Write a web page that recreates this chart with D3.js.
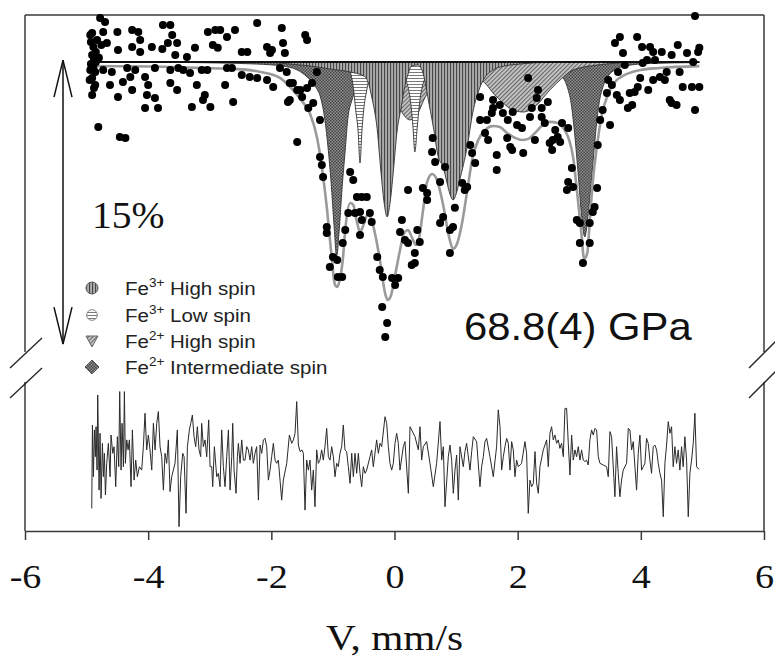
<!DOCTYPE html>
<html><head><meta charset="utf-8">
<script src="https://cdn.jsdelivr.net/npm/d3@7"></script>
<style>body{margin:0;background:#fff;} svg{display:block;}</style>
</head><body><svg id="c" width="775" height="657"></svg>
<script>
// ---------- DATA ----------
const velocityTicks = [-6, -4, -2, 0, 2, 4, 6];
const pressureLabel = "68.8(4) GPa";
const scaleBarLabel = "15%";
const xAxisTitle = "V, mm/s";
const legendIon = ["Fe", "Fe", "Fe", "Fe"];
const legendCharge = ["3+", "3+", "2+", "2+"];
const legendState = ["High spin", "Low spin", "High spin", "Intermediate spin"];

// measured spectrum: [velocity mm/s, relative transmission %]
const spectrum = [
[-4.94,101.43],[-4.93,101.06],[-4.91,101.54],[-4.89,100.80],[-4.91,100.37],[-4.88,100.11],[-4.93,99.90],[-4.89,99.74],
[-4.86,99.47],[-4.91,99.15],[-4.85,100.53],[-4.83,101.17],[-4.86,98.78],[-4.91,98.25],[-4.95,99.05],[-4.81,96.56],
[-4.78,102.33],[-4.73,101.59],[-4.70,102.12],[-4.73,99.58],[-4.80,100.22],[-4.76,100.90],[-4.85,100.00],[-4.94,99.58],
[-4.88,98.62],[-4.67,101.01],[-4.62,98.78],[-4.59,99.47],[-4.50,101.59],[-4.49,100.64],[-4.49,98.15],[-4.46,96.03],
[-4.41,98.94],[-4.37,95.97],[-4.34,99.68],[-4.29,99.21],[-4.26,101.70],[-4.26,100.80],[-4.26,98.52],[-4.21,99.58],
[-4.16,101.59],[-4.13,101.17],[-4.13,100.53],[-4.05,99.21],[-4.05,97.56],[-4.02,98.25],[-4.00,98.78],[-3.94,100.80],
[-3.89,99.68],[-3.89,98.09],[-3.84,97.56],[-3.77,100.69],[-3.76,101.96],[-3.68,101.01],[-3.64,101.96],[-3.64,99.58],
[-3.64,98.89],[-3.61,101.43],[-3.56,100.37],[-3.53,101.01],[-3.53,98.52],[-3.51,99.68],[-3.43,99.58],[-3.37,100.27],
[-3.32,99.42],[-3.29,97.62],[-3.24,100.75],[-3.21,98.78],[-3.13,99.58],[-3.11,97.99],[-3.08,98.25],[-3.04,99.58],
[-3.03,101.59],[-2.99,97.62],[-2.95,100.90],[-2.91,101.70],[-2.87,100.75],[-2.83,101.70],[-2.75,98.78],[-2.72,101.33],
[-2.72,99.68],[-2.64,99.68],[-2.62,97.88],[-2.59,101.70],[-2.48,100.53],[-2.48,99.31],[-2.39,100.53],[-2.35,99.21],
[-2.23,102.07],[-2.23,99.15],[-2.07,100.80],[-2.07,99.05],[-2.02,100.48],[-1.99,100.64],[-1.97,98.68],[-1.86,99.68],
[-1.83,101.80],[-1.81,101.01],[-1.78,100.48],[-1.75,99.47],[-1.73,97.88],[-1.70,98.89],[-1.70,97.99],[-1.65,98.89],
[-1.58,98.52],[-1.58,95.76],[-1.53,98.52],[-1.50,98.15],[-1.45,101.43],[-1.42,101.17],[-1.42,98.62],[-1.40,97.56],
[-1.34,98.89],[-1.32,97.83],[-1.26,99.47],[-1.21,96.93],[-1.21,94.97],[-1.18,94.54],[-1.16,93.91],[-1.10,91.26],
[-1.10,90.94],[-1.05,89.14],[-1.00,89.67],[-0.93,89.51],[-0.92,88.61],[-0.85,88.61],[-0.84,90.41],[-0.80,91.10],
[-0.75,92.00],[-0.72,94.17],[-0.67,93.75],[-0.64,92.00],[-0.61,92.85],[-0.56,92.05],[-0.56,90.83],[-0.53,92.85],
[-0.53,91.63],[-0.45,92.85],[-0.40,92.00],[-0.37,91.52],[-0.28,89.67],[-0.24,88.98],[-0.20,87.02],[-0.19,88.61],
[-0.15,85.43],[-0.12,86.17],[-0.04,88.55],[0.01,88.18],[0.06,88.55],[0.09,90.99],[0.12,91.63],[0.17,90.57],
[0.22,93.22],[0.22,90.41],[0.28,89.24],[0.33,89.88],[0.33,89.35],[0.37,91.10],[0.41,90.46],[0.46,93.32],
[0.53,93.06],[0.53,92.69],[0.61,95.23],[0.62,95.97],[0.66,94.70],[0.74,93.64],[0.74,91.47],[0.79,91.79],
[0.82,94.44],[0.90,91.10],[0.90,89.88],[0.95,91.26],[0.98,92.27],[1.10,93.59],[1.14,93.22],[1.18,93.38],
[1.23,95.60],[1.26,95.18],[1.31,94.65],[1.39,98.15],[1.39,96.93],[1.47,96.24],[1.50,96.93],[1.52,95.87],
[1.58,97.30],[1.60,97.99],[1.60,97.56],[1.66,95.07],[1.66,94.28],[1.71,97.72],[1.76,97.30],[1.83,95.97],
[1.84,96.93],[1.88,95.50],[1.91,95.34],[1.92,97.35],[1.99,96.66],[2.07,96.50],[2.09,95.18],[2.17,99.15],
[2.20,97.09],[2.23,97.56],[2.28,95.87],[2.31,98.09],[2.33,98.52],[2.39,97.56],[2.39,97.09],[2.44,96.77],
[2.49,97.88],[2.52,95.71],[2.56,95.34],[2.57,95.87],[2.61,96.40],[2.65,96.03],[2.69,95.76],[2.72,96.77],
[2.80,93.22],[2.82,96.50],[2.82,93.64],[2.88,94.38],[2.90,93.38],[2.96,91.63],[3.01,91.47],[3.01,90.41],
[3.06,89.35],[3.17,91.47],[3.17,90.41],[3.22,92.05],[3.25,92.32],[3.29,93.32],[3.30,95.60],[3.34,96.93],
[3.38,97.46],[3.45,98.36],[3.47,99.05],[3.50,96.66],[3.53,98.78],[3.58,101.01],[3.61,98.25],[3.63,99.47],
[3.66,101.33],[3.66,97.99],[3.71,100.48],[3.74,99.84],[3.79,97.56],[3.82,98.36],[3.86,97.72],[3.90,98.41],
[3.94,101.33],[3.95,98.68],[3.99,99.15],[4.02,100.80],[4.03,99.95],[4.10,100.11],[4.12,98.52],[4.15,100.80],
[4.20,100.53],[4.20,99.05],[4.23,100.11],[4.31,99.21],[4.34,100.53],[4.39,99.05],[4.42,99.47],[4.47,97.99],
[4.50,100.37],[4.50,97.83],[4.58,97.72],[4.60,100.90],[4.63,99.47],[4.68,98.68],[4.75,100.48],[4.83,98.68],
[4.85,100.00],[4.88,102.44],[4.88,97.46],[4.93,100.53],[4.95,100.75],[4.95,98.68]
];

// total fit: [velocity, absorption %]
const fitTotal = [
[-4.95,0.11],[-3.97,0.13],[-3.16,0.21],[-2.59,0.26],[-2.18,0.42],[-1.86,0.74],[-1.65,1.38],[-1.49,2.01],
[-1.37,2.65],[-1.26,3.87],[-1.18,5.46],[-1.10,7.58],[-1.02,10.23],[-0.97,11.66],[-0.93,11.82],[-0.89,11.45],
[-0.84,10.39],[-0.79,8.48],[-0.72,7.37],[-0.67,7.47],[-0.61,8.37],[-0.56,8.90],[-0.51,8.59],[-0.43,7.95],
[-0.35,8.53],[-0.24,10.33],[-0.15,12.19],[-0.11,12.51],[-0.06,12.30],[0.02,11.02],[0.09,9.86],[0.15,9.01],
[0.22,8.80],[0.28,9.17],[0.35,9.59],[0.40,9.22],[0.46,7.84],[0.53,6.25],[0.61,5.83],[0.69,6.15],
[0.79,7.47],[0.89,9.22],[0.95,9.80],[1.02,9.49],[1.10,8.37],[1.19,6.52],[1.27,4.93],[1.36,4.03],
[1.47,3.50],[1.60,3.29],[1.71,3.34],[1.83,3.66],[1.96,3.92],[2.07,4.03],[2.17,3.97],[2.28,3.66],
[2.39,3.29],[2.52,3.07],[2.65,3.13],[2.75,3.44],[2.83,3.97],[2.90,4.93],[2.96,6.62],[3.03,8.80],
[3.08,10.33],[3.13,10.02],[3.17,8.37],[3.22,6.25],[3.29,4.29],[3.37,2.65],[3.47,1.59],[3.58,0.95],
[3.74,0.58],[3.99,0.32],[4.31,0.21],[4.95,0.11]
];

// subspectra: [velocity, absorption %]
const fe2Intermediate = [
[-4.13,0],[-2.88,0.05],[-2.23,0.11],[-1.83,0.21],[-1.58,0.42],[-1.42,0.79],[-1.29,1.27],[-1.19,2.01],
[-1.13,3.07],[-1.08,4.50],[-1.03,6.36],[-0.98,8.74],[-0.94,10.33],[-0.90,9.01],[-0.85,6.62],[-0.80,4.66],
[-0.76,3.07],[-0.69,2.01],[-0.59,1.27],[-0.46,0.79],[-0.24,0.42],[0.09,0.21],[0.58,0.11],[1.23,0.08],
[2.04,0.11],[2.44,0.21],[2.61,0.42],[2.72,0.74],[2.80,1.27],[2.87,2.23],[2.93,3.97],[2.98,5.83],
[3.04,8.21],[3.09,9.27],[3.14,8.21],[3.21,5.83],[3.26,3.97],[3.32,2.23],[3.39,1.27],[3.47,0.74],
[3.58,0.42],[3.74,0.21],[4.15,0.08],[4.95,0.03]
];
const fe2HighSpin = [
[-1.05,0.05],[-0.56,0.26],[-0.24,0.79],[0.01,1.85],[0.14,2.76],[0.25,3.07],[0.37,2.76],[0.50,1.85],
[0.66,1.17],[0.90,0.90],[1.14,0.85],[1.39,0.95],[1.66,1.85],[1.92,2.54],[2.09,2.65],[2.31,2.28],
[2.48,1.64],[2.69,0.95],[2.90,0.42],[3.29,0.16],[3.66,0.05],[4.07,0]
];
const fe3LowSpin = [
[-1.83,0],[-1.37,0.10],[-1.05,0.15],[-0.80,0.21],[-0.72,0.53],[-0.67,1.32],[-0.63,2.54],[-0.59,3.71],
[-0.56,5.35],[-0.53,3.71],[-0.50,2.54],[-0.45,1.48],[-0.40,0.74],[-0.27,0.48],[-0.12,0.42],[0.02,0.53],
[0.14,0.79],[0.22,1.32],[0.27,2.38],[0.30,3.44],[0.33,4.77],[0.37,3.44],[0.40,2.38],[0.45,1.32],
[0.53,0.74],[0.74,0.42],[1.23,0.10],[2.04,0.05],[3.01,0]
];
const fe3HighSpin = [
[-2.02,0],[-1.70,0.11],[-1.37,0.21],[-1.05,0.37],[-0.72,0.53],[-0.50,0.74],[-0.43,1.06],[-0.37,1.85],
[-0.28,3.60],[-0.22,5.83],[-0.17,7.42],[-0.12,8.21],[-0.07,7.42],[-0.02,5.83],[0.04,3.71],[0.11,2.38],
[0.15,1.59],[0.22,0.64],[0.28,0.21],[0.38,0.16],[0.43,0.32],[0.48,0.79],[0.54,1.85],[0.63,3.44],
[0.71,5.03],[0.79,5.56],[0.85,6.36],[0.90,7.00],[0.95,7.31],[1.02,6.78],[1.06,6.25],[1.18,4.50],
[1.27,2.70],[1.39,1.32],[1.60,0.42],[1.79,0.21],[2.04,0.11],[2.36,0]
];

// residual: [velocity, difference %]
const residual = [
[-4.916,-2.83],[-4.905,1.59],[-4.889,-1.15],[-4.873,1.33],[-4.857,-0.09],[-4.846,1.50],[-4.830,-0.80],[-4.819,3.18],
[-4.797,-1.86],[-4.781,1.15],[-4.765,-2.30],[-4.743,0.62],[-4.727,-1.15],[-4.711,0.09],[-4.694,-2.12],[-4.673,-0.44],
[-4.646,0.62],[-4.619,-1.15],[-4.603,1.06],[-4.575,0.09],[-4.554,0.44],[-4.527,-1.68],[-4.500,0.97],[-4.478,-0.62],
[-4.462,3.36],[-4.440,-0.80],[-4.424,1.68],[-4.402,-0.62],[-4.386,3.36],[-4.370,-0.44],[-4.348,0.80],[-4.326,0.27],
[-4.305,0.80],[-4.278,-1.68],[-4.256,1.33],[-4.229,-1.33],[-4.202,-0.27],[-4.175,-1.15],[-4.143,-0.62],[-4.105,-0.80],
[-4.078,0.44],[-4.051,2.21],[-4.024,0.27],[-3.997,1.06],[-3.970,0.27],[-3.942,-0.80],[-3.915,1.68],[-3.888,0.27],
[-3.861,1.68],[-3.834,2.30],[-3.807,0.44],[-3.780,-0.09],[-3.753,-1.86],[-3.726,0.09],[-3.699,-0.44],[-3.672,0.80],
[-3.645,-1.94],[-3.618,-1.15],[-3.591,-0.80],[-3.564,-0.44],[-3.526,1.33],[-3.499,-3.80],[-3.472,-1.15],[-3.439,0.09],
[-3.417,-0.09],[-3.385,-3.09],[-3.363,0.44],[-3.331,1.33],[-3.309,1.68],[-3.282,2.12],[-3.255,0.97],[-3.228,0.44],
[-3.201,1.50],[-3.174,0.27],[-3.147,-0.09],[-3.131,1.68],[-3.104,0.44],[-3.077,0.80],[-3.049,-0.09],[-3.017,1.86],
[-2.995,-0.62],[-2.968,-0.62],[-2.952,-1.68],[-2.925,0.44],[-2.887,-1.15],[-2.860,-0.97],[-2.833,-1.68],[-2.806,1.33],
[-2.779,-0.62],[-2.752,-1.68],[-2.724,-0.09],[-2.697,1.33],[-2.670,-1.86],[-2.643,-0.09],[-2.627,1.68],[-2.605,-0.80],
[-2.573,-2.03],[-2.551,-0.09],[-2.535,0.62],[-2.508,-0.44],[-2.481,0.80],[-2.454,-0.27],[-2.427,-0.27],[-2.400,0.44],
[-2.373,0.27],[-2.346,-0.27],[-2.319,0.44],[-2.292,-0.44],[-2.265,0.09],[-2.238,0.44],[-2.210,-2.39],[-2.183,0.53],
[-2.156,0.09],[-2.129,0.80],[-2.102,0.88],[-2.075,0.44],[-2.048,-1.33],[-2.021,-0.80],[-1.994,-0.09],[-1.967,0.62],
[-1.940,-0.27],[-1.913,-0.44],[-1.886,-0.27],[-1.859,-1.33],[-1.832,-2.39],[-1.805,-1.33],[-1.750,-0.44],[-1.707,1.06],
[-1.669,0.62],[-1.642,0.80],[-1.615,1.15],[-1.588,2.83],[-1.561,0.53],[-1.534,0.18],[-1.502,0.27],[-1.480,0.09],
[-1.453,-2.92],[-1.426,-0.27],[-1.399,-0.80],[-1.372,-0.27],[-1.345,-1.86],[-1.318,-0.80],[-1.291,-2.74],[-1.264,0.27],
[-1.237,-0.44],[-1.210,-0.27],[-1.183,0.27],[-1.156,-0.27],[-1.129,0.44],[-1.101,1.41],[-1.074,-0.09],[-1.047,-0.27],
[-1.020,0.44],[-0.993,-0.09],[-0.966,-1.15],[-0.939,-0.44],[-0.912,-0.62],[-0.885,0.09],[-0.858,0.44],[-0.831,1.59],
[-0.804,0.27],[-0.777,0.18],[-0.750,-0.62],[-0.722,-1.50],[-0.695,0.09],[-0.668,-1.15],[-0.641,0.09],[-0.614,-0.97],
[-0.587,0.09],[-0.560,-0.97],[-0.533,-1.68],[-0.506,-0.62],[-0.479,-0.97],[-0.452,-0.80],[-0.398,-0.09],[-0.371,0.27],
[-0.344,-0.62],[-0.290,0.80],[-0.262,0.09],[-0.235,0.62],[-0.208,0.44],[-0.154,2.03],[-0.127,1.68],[-0.100,0.44],
[-0.073,-0.44],[-0.046,-0.80],[-0.019,-0.44],[0.008,0.62],[0.035,1.15],[0.062,0.62],[0.089,-0.80],[0.143,0.44],
[0.170,0.71],[0.225,-2.03],[0.252,1.50],[0.333,0.97],[0.387,0.27],[0.414,1.50],[0.441,-0.27],[0.468,0.44],
[0.522,0.71],[0.576,-0.44],[0.630,-1.68],[0.684,-0.44],[0.739,1.77],[0.766,-0.27],[0.793,0.44],[0.820,-2.74],
[0.874,-0.09],[0.901,0.53],[0.928,-0.27],[0.955,-2.03],[0.982,-0.80],[1.009,0.00],[1.036,-2.39],[1.063,0.44],
[1.117,-0.62],[1.144,0.18],[1.171,0.62],[1.226,-0.80],[1.253,0.18],[1.280,0.97],[1.334,0.71],[1.388,-1.68],
[1.415,-0.62],[1.442,-0.09],[1.469,0.71],[1.496,0.88],[1.550,-0.09],[1.604,-1.15],[1.658,0.44],[1.685,2.39],
[1.713,1.50],[1.740,-0.80],[1.767,-0.09],[1.794,0.44],[1.821,0.88],[1.848,0.62],[1.875,-0.80],[1.902,0.71],
[1.929,0.27],[1.956,-1.15],[1.983,-0.27],[2.010,-0.62],[2.037,-0.53],[2.064,-0.44],[2.118,0.71],[2.145,0.09],
[2.172,-3.09],[2.199,-1.33],[2.227,-1.68],[2.254,-1.50],[2.281,0.18],[2.308,-1.50],[2.335,-2.03],[2.362,-0.62],
[2.416,0.27],[2.470,0.80],[2.497,-0.62],[2.524,1.15],[2.551,1.50],[2.578,0.80],[2.605,1.06],[2.632,0.62],
[2.659,0.80],[2.686,0.35],[2.713,0.62],[2.741,-0.09],[2.768,2.47],[2.795,2.47],[2.822,0.62],[2.849,-1.06],
[2.876,1.06],[2.903,-0.27],[2.930,0.27],[2.957,-0.09],[2.984,0.44],[3.011,-0.27],[3.038,0.27],[3.065,-0.27],
[3.092,-0.35],[3.119,-0.27],[3.146,-0.53],[3.173,0.80],[3.200,1.33],[3.227,1.06],[3.255,1.41],[3.282,1.33],
[3.309,-0.09],[3.336,-0.44],[3.390,-0.53],[3.444,-0.62],[3.471,-1.15],[3.498,1.24],[3.525,0.97],[3.579,-2.21],
[3.606,0.44],[3.633,-0.97],[3.660,-2.21],[3.687,-1.33],[3.714,-0.80],[3.769,-0.44],[3.796,1.41],[3.823,1.33],
[3.850,0.27],[3.877,0.71],[3.904,-0.62],[3.931,-1.86],[3.958,0.09],[3.985,1.06],[4.012,-0.80],[4.039,-0.62],
[4.066,-0.44],[4.093,0.88],[4.120,0.62],[4.147,-0.27],[4.174,-0.97],[4.201,0.44],[4.228,0.53],[4.256,0.27],
[4.283,-0.44],[4.310,-0.97],[4.337,-1.33],[4.364,-3.27],[4.391,-0.44],[4.418,0.53],[4.445,1.77],[4.472,1.15],
[4.499,1.50],[4.526,-0.62],[4.553,0.44],[4.580,-0.44],[4.607,0.27],[4.634,-0.80],[4.661,0.44],[4.688,-0.62],
[4.715,0.97],[4.743,-0.27],[4.770,-3.27],[4.797,-0.97],[4.824,-0.27],[4.851,0.62],[4.878,2.21],[4.905,-0.62],
[4.943,-0.76]
];

// ---------- CHART ----------
const svg = d3.select('#c');
const x = d3.scaleLinear().domain([-6, 6]).range([25, 764]);
const yTop = d3.scaleLinear().domain([100, 85]).range([62, 345]);
const yRes = d3.scaleLinear().domain([-4, 4]).range([530.5, 379.5]);
const vMin = -4.95, vMax = 4.95;
const serif = '"Liberation Serif","Times New Roman",serif';
const sans = '"Liberation Sans",Arial,sans-serif';

const defs = svg.append('defs');
const pV = defs.append('pattern').attr('id','pV').attr('patternUnits','userSpaceOnUse').attr('width',3).attr('height',3);
pV.append('rect').attr('width',3).attr('height',3).attr('fill','#ababab');
pV.append('rect').attr('x',0).attr('width',1.1).attr('height',3).attr('fill','#474747');
const pH = defs.append('pattern').attr('id','pH').attr('patternUnits','userSpaceOnUse').attr('width',3).attr('height',3);
pH.append('rect').attr('width',3).attr('height',3).attr('fill','#ffffff');
pH.append('rect').attr('y',0).attr('width',3).attr('height',1).attr('fill','#7a7a7a');
const pD = defs.append('pattern').attr('id','pD').attr('patternUnits','userSpaceOnUse').attr('width',3).attr('height',3)
  .attr('patternTransform','rotate(45)');
pD.append('rect').attr('width',3).attr('height',3).attr('fill','#c6c6c6');
pD.append('rect').attr('x',0).attr('width',1.1).attr('height',3).attr('fill','#666');
const pC = defs.append('pattern').attr('id','pC').attr('patternUnits','userSpaceOnUse').attr('width',3).attr('height',3);
pC.append('rect').attr('width',3).attr('height',3).attr('fill','#8e8e8e');
pC.append('rect').attr('width',1.5).attr('height',1.5).attr('fill','#474747');
pC.append('rect').attr('x',1.5).attr('y',1.5).attr('width',1.5).attr('height',1.5).attr('fill','#474747');

// frame
const frame = svg.append('g').attr('stroke','#3a3a3a').attr('stroke-width',1.5).attr('fill','none');
frame.append('line').attr('x1',25).attr('x2',764).attr('y1',15).attr('y2',15);
[25, 764].forEach(px => {
  frame.append('line').attr('x1',px).attr('x2',px).attr('y1',15).attr('y2',352);
  frame.append('line').attr('x1',px).attr('x2',px).attr('y1',382).attr('y2',531);
});
const brk = svg.append('g').attr('stroke','#222').attr('stroke-width',1.3);
[[10,368,42,338],[10,398,42,368],[749,368,776,341],[749,398,776,371]].forEach(s=>{
  brk.append('line').attr('x1',s[0]).attr('y1',s[1]).attr('x2',s[2]).attr('y2',s[3]);
});

// x axis
const ax = svg.append('g').attr('transform','translate(0,531)')
  .call(d3.axisBottom(x).tickValues(velocityTicks).tickFormat(d=>String(d)).tickSize(9).tickSizeOuter(0).tickPadding(24));
ax.select('.domain').attr('stroke','#3a3a3a').attr('stroke-width',1.5);
ax.selectAll('.tick line').attr('stroke','#3a3a3a').attr('stroke-width',1.5);
ax.selectAll('.tick text').attr('font-family',serif).attr('font-size',34).attr('fill','#111')
  .attr('transform','scale(1.12,1)').attr('x',0);

svg.append('text').attr('transform',`translate(${x(0)},650) scale(1.18,1)`).attr('text-anchor','middle')
  .attr('font-family',serif).attr('font-size',35).attr('fill','#111').text(xAxisTitle);

// subspectra
const area = d3.area().x(d=>x(d[0])).y0(yTop(100)).y1(d=>yTop(100-d[1])).curve(d3.curveMonotoneX);
const comps = [[fe2Intermediate,'url(#pC)'],[fe2HighSpin,'url(#pD)'],[fe3LowSpin,'url(#pH)'],[fe3HighSpin,'url(#pV)']];
comps.forEach(c => {
  svg.append('path').datum(c[0]).attr('d',area).attr('fill',c[1]).attr('stroke','#333').attr('stroke-width',0.9);
});

// baseline
svg.append('line').attr('x1',x(vMin)).attr('x2',x(vMax)).attr('y1',yTop(100)).attr('y2',yTop(100))
  .attr('stroke','#111').attr('stroke-width',2.2);

// fit
const fitLine = d3.line().x(d=>x(d[0])).y(d=>yTop(100-d[1])+2).curve(d3.curveMonotoneX);
svg.append('path').datum(fitTotal).attr('d',fitLine).attr('fill','none').attr('stroke','#9a9a9a').attr('stroke-width',2.6);

// data points
svg.append('g').selectAll('circle').data(spectrum).join('circle')
  .attr('cx',d=>x(d[0])).attr('cy',d=>yTop(d[1])).attr('r',4).attr('fill','#000');

// residual
const resLine = d3.line().x(d=>x(d[0])).y(d=>yRes(d[1]));
svg.append('path').datum(residual).attr('d',resLine).attr('fill','none').attr('stroke','#2a2a2a').attr('stroke-width',1);

// scale arrow
const arr = svg.append('g').attr('stroke','#111').attr('stroke-width',1.5).attr('fill','none');
const aTop = yTop(100.1), aBot = yTop(85.05), ax0 = 63;
arr.append('line').attr('x1',ax0).attr('x2',ax0).attr('y1',aTop).attr('y2',aBot);
arr.append('path').attr('d',`M${ax0-9},${aTop+37}L${ax0},${aTop}L${ax0+9},${aTop+37}`);
arr.append('path').attr('d',`M${ax0-9},${aBot-37}L${ax0},${aBot}L${ax0+9},${aBot-37}`);
svg.append('text').attr('transform','translate(92,228) scale(1.07,1)').attr('font-family',serif)
  .attr('font-size',37).attr('fill','#111').text(scaleBarLabel);

// pressure label
svg.append('text').attr('transform','translate(464,340) scale(1.1,1)').attr('font-family',sans)
  .attr('font-size',38).attr('fill','#111').text(pressureLabel);

// legend
const legY = [288, 315, 341, 367];
const legFill = ['url(#pV)','url(#pH)','url(#pD)','url(#pC)'];
const legend = svg.append('g');
legY.forEach((yy,i)=>{
  const g = legend.append('g').attr('transform',`translate(92,${yy})`);
  if (i===0) g.append('circle').attr('r',6).attr('fill',legFill[i]).attr('stroke','#555');
  if (i===1) g.append('path').attr('d',d3.symbol(d3.symbolCircle,90)()).attr('fill',legFill[i]).attr('stroke','#888');
  if (i===2) g.append('path').attr('d','M-6,-5L6,-5L0,6Z').attr('fill',legFill[i]).attr('stroke','#666');
  if (i===3) g.append('path').attr('d','M0,-7L7,0L0,7L-7,0Z').attr('fill',legFill[i]).attr('stroke','#555');
  const t = legend.append('text').attr('transform',`translate(125,${yy+7}) scale(1.08,1)`).attr('font-family',sans)
    .attr('font-size',19).attr('fill','#222');
  t.append('tspan').text(legendIon[i]);
  t.append('tspan').attr('dy',-8).attr('font-size',12.5).text(legendCharge[i]);
  t.append('tspan').attr('dy',8).text(' ' + legendState[i]);
});
</script></body></html>
